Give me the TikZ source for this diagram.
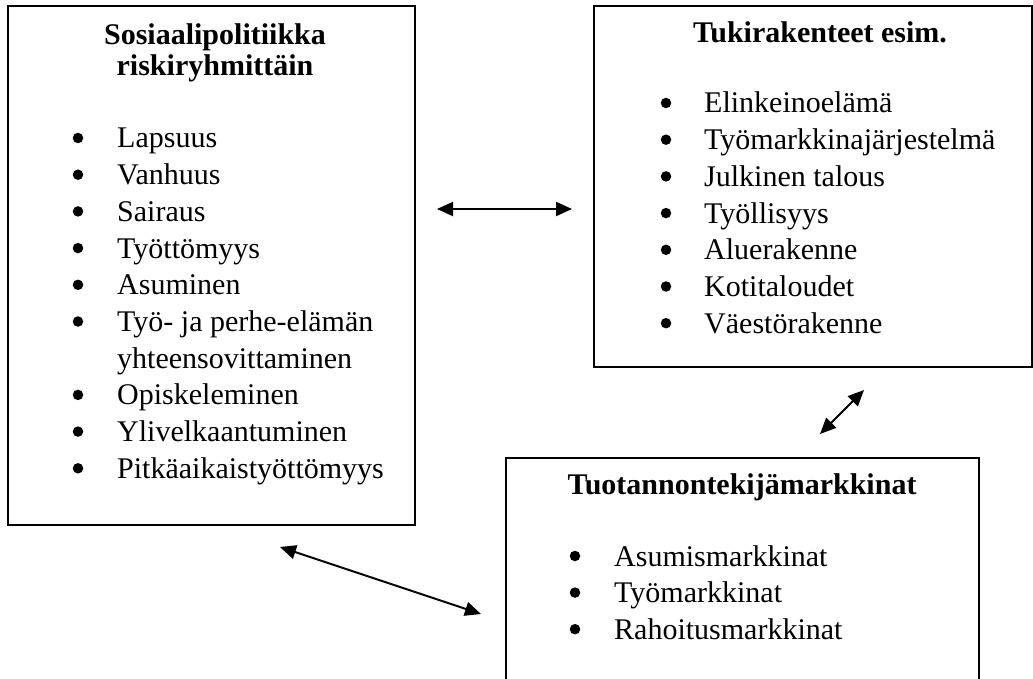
\documentclass[tikz,border=0pt]{standalone}
\usepackage{fontspec}
\setmainfont{Liberation Serif}
\usetikzlibrary{arrows.meta, positioning}
\tikzset{
  box/.style={rectangle, draw=black, line width=2pt, anchor=north west, inner sep=0pt},
  heading/.style={font=\fontsize{30}{31}\selectfont\bfseries, align=center, anchor=base, inner sep=0pt},
  item/.style={font=\fontsize{30}{36.7}\selectfont, anchor=base west, inner sep=0pt},
  dot/.style={circle, fill=black, inner sep=0pt, minimum size=10.5pt},
  arrow/.style={line width=2pt, {Triangle[length=16pt,width=14pt]}-{Triangle[length=16pt,width=14pt]}}
}

\begin{document}
\begin{tikzpicture}[x=1pt, y=-1pt]
    \useasboundingbox (0,0) rectangle (1033,679);
    \clip (0,0) rectangle (1033,679);

    % frames
    \node (riski) [box, minimum width=407pt, minimum height=519pt] at (7,5) {};
    \node (tuki) [box, minimum width=438pt, minimum height=361pt] at (593,5) {};
    \node (tuotanto) [box, minimum width=473pt, minimum height=260pt] at (505,457) {};

    % headings (base of a two-line heading is its last line)
    \node (riskihead) [heading] at (215,76) {Sosiaalipolitiikka\\riskiryhmittäin};
    \node (tukihead) [heading] at (820,43) {Tukirakenteet esim.};
    \node (tuotantohead) [heading] at (742,494) {Tuotannontekijämarkkinat};

    % left list
    \foreach \txt [count=\i from 0] in {Lapsuus, Vanhuus, Sairaus, Työttömyys, Asuminen,
        Työ- ja perhe-elämän, yhteensovittaminen, Opiskeleminen, Ylivelkaantuminen,
        Pitkäaikaistyöttömyys}
      \node (riski\i) [item] at (117,{148+36.7*\i}) {\txt};
    \foreach \i in {0,1,2,3,4,5,7,8,9}
      \node (riskidot\i) [dot] at (78,{138+36.7*\i}) {};

    % right list
    \foreach \txt [count=\i from 0] in {Elinkeinoelämä, Työmarkkinajärjestelmä, Julkinen talous,
        Työllisyys, Aluerakenne, Kotitaloudet, Väestörakenne} {
      \node (tuki\i) [item] at (704,{113+36.7*\i}) {\txt};
      \node (tukidot\i) [dot] at (666,{103+36.7*\i}) {};
    }

    % bottom list
    \foreach \txt [count=\i from 0] in {Asumismarkkinat, Työmarkkinat, Rahoitusmarkkinat} {
      \node (tuotanto\i) [item] at (614,{566+36.6*\i}) {\txt};
      \node (tuotantodot\i) [dot] at (575,{556+36.6*\i}) {};
    }

    % two-way arrows between the frames
    \coordinate (ab1) at (437,209);
    \coordinate (ab2) at (572,209);
    \coordinate (bc1) at (864,390);
    \coordinate (bc2) at (820,434);
    \coordinate (ac1) at (280,547);
    \coordinate (ac2) at (481,614);
    \draw[arrow] (ab1) -- (ab2);
    \draw[arrow] (bc1) -- (bc2);
    \draw[arrow] (ac1) -- (ac2);
\end{tikzpicture}
\end{document}
